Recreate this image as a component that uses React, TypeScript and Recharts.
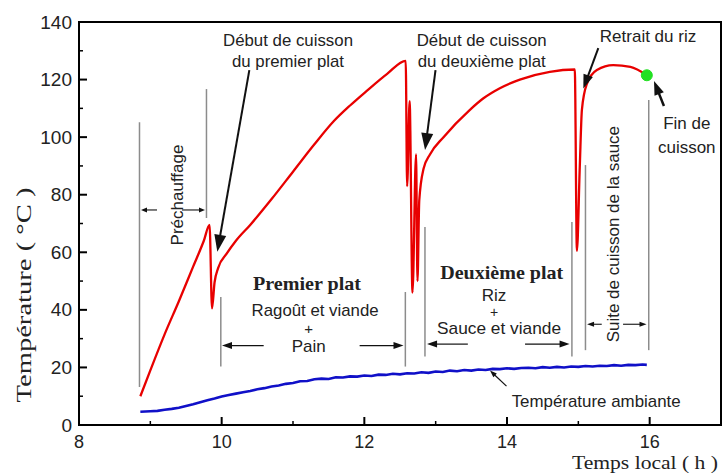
import React from 'react';
import { ComposedChart, Line, XAxis, YAxis, ReferenceLine, ReferenceDot, ReferenceArea } from 'recharts';

// Cooking temperature (red)
const cookHours = [8.86, 9.0, 9.2, 9.4, 9.6, 9.75, 9.83, 9.865, 9.9, 9.95, 10.07, 10.2, 10.4, 10.7, 11.0, 11.3, 11.57, 11.8, 12.03, 12.32, 12.58, 12.6, 12.635, 12.675, 12.725, 12.745, 12.77, 12.83, 12.92, 13.11, 13.48, 13.67, 13.9, 14.18, 14.6, 14.95, 14.98, 15.02, 15.05, 15.12, 15.26, 15.49, 15.73, 15.96];
const cookTemps = [10, 19, 31.5, 43, 55, 64, 69.5, 40.5, 49.5, 54.5, 59.5, 64, 69.5, 78.5, 88, 97.5, 105.5, 111, 116, 122, 126.5, 83, 112.5, 46, 94, 50, 78, 89, 94, 100, 109.5, 113.5, 117, 120, 122.7, 123.5, 60.5, 89.5, 109.5, 118.5, 123.3, 125, 124.4, 121.5];

// Ambient temperature (blue)
const ambHours = [8.86, 9.0, 9.1, 9.2, 9.3, 9.4, 9.5, 9.6, 9.7, 9.8, 9.9, 10.0, 10.1, 10.2, 10.3, 10.4, 10.5, 10.6, 10.7, 10.8, 10.9, 11.0, 11.1, 11.2, 11.3, 11.4, 11.5, 11.6, 11.7, 11.8, 11.9, 12.0, 12.1, 12.2, 12.3, 12.4, 12.5, 12.6, 12.7, 12.8, 12.9, 13.0, 13.1, 13.2, 13.3, 13.4, 13.5, 13.6, 13.7, 13.8, 13.9, 14.0, 14.1, 14.2, 14.3, 14.4, 14.5, 14.6, 14.7, 14.8, 14.9, 15.0, 15.1, 15.2, 15.3, 15.4, 15.5, 15.6, 15.7, 15.8, 15.9, 15.96];
const ambTemps = [4.6, 4.8, 4.9, 5.3, 5.6, 6.0, 6.6, 7.2, 7.9, 8.6, 9.2, 9.9, 10.4, 10.9, 11.4, 11.8, 12.4, 12.8, 13.4, 13.7, 14.3, 14.6, 15.2, 15.3, 15.9, 16.1, 16.0, 16.6, 16.5, 16.9, 16.8, 17.2, 17.0, 17.5, 17.4, 17.8, 17.6, 18.0, 17.9, 18.3, 18.1, 18.6, 18.4, 18.9, 18.7, 19.1, 18.9, 19.3, 19.1, 19.5, 19.4, 19.7, 19.5, 19.8, 19.9, 19.7, 20.1, 19.9, 20.2, 20.0, 20.3, 20.2, 20.5, 20.3, 20.6, 20.5, 20.8, 20.6, 20.9, 20.8, 21.0, 20.9];

// End of cooking marker
const endHour = 15.96;
const endTemp = 121.5;

const xTicks = [8, 9, 10, 11, 12, 13, 14, 15, 16];
const yTicks = [0, 10, 20, 30, 40, 50, 60, 70, 80, 90, 100, 110, 120, 130, 140];

const cookData = cookHours.map((h, i) => ({ h, t: cookTemps[i] }));
const ambData = ambHours.map((h, i) => ({ h, t: ambTemps[i] }));

const SANS = '"Liberation Sans", Arial, sans-serif';
const SERIF = '"Liberation Serif", "Times New Roman", serif';

// gray bracket lines [x, yTop, yBottom]
const brackets: [number, number, number][] = [
  [8.848, 105.2, 13.2],
  [9.787, 116.7, 71.9],
  [9.988, 44.5, 20.3],
  [12.575, 46.2, 20.3],
  [12.85, 68.8, 23.8],
  [14.91, 70.5, 23.8],
  [15.1, 90.3, 26],
  [15.987, 112.9, 26],
];

// arrows: tail -> head, [x1,y1,x2,y2, headLen, headHalfWidth, strokeWidth]
const arrows: [number, number, number, number, number, number, number][] = [
  [9.094, 74.7, 8.869, 74.7, 6, 2.5, 1.1],
  [9.444, 74.7, 9.766, 74.7, 6, 2.5, 1.1],
  [10.589, 27.6, 10.005, 27.6, 10, 3.5, 1.2],
  [11.934, 27.6, 12.549, 27.6, 10, 3.5, 1.2],
  [13.451, 28.1, 12.879, 28.1, 10, 3.5, 1.2],
  [14.253, 28.1, 14.877, 28.1, 10, 3.5, 1.2],
  [15.328, 35, 15.122, 35, 7, 2.5, 1.1],
  [15.627, 35, 15.956, 35, 7, 2.5, 1.1],
  [10.388, 123.3, 9.939, 60.2, 17, 6, 2],
  [12.998, 123.3, 12.851, 95.5, 17, 6, 2],
  [15.28, 130.9, 15.07, 116.9, 14, 5, 2],
  [16.2, 110.8, 16.061, 119.5, 14, 5, 2.5],
  [13.993, 13.5, 13.762, 18.9, 7, 2.5, 1.2],
];

type Note = { x: number; y: number; text: string; size: number; bold?: boolean; serif?: boolean; len?: number };
const notes: Note[] = [
  { x: 10.93, y: 133.7, text: 'Début de cuisson', size: 17, len: 130 },
  { x: 10.93, y: 126.3, text: 'du premier plat', size: 17, len: 112 },
  { x: 13.645, y: 133.7, text: 'Début de cuisson', size: 17, len: 130 },
  { x: 13.645, y: 126.3, text: 'du deuxième plat', size: 17, len: 128 },
  { x: 15.977, y: 134.9, text: 'Retrait du riz', size: 17 },
  { x: 16.52, y: 104.8, text: 'Fin de', size: 17 },
  { x: 16.52, y: 96.5, text: 'cuisson', size: 17 },
  { x: 9.374, y: 79.9, text: 'Préchauffage', size: 17 },
  { x: 11.196, y: 49.3, text: 'Premier plat', size: 19, bold: true, serif: true, len: 108 },
  { x: 11.31, y: 39.9, text: 'Ragoût et viande', size: 17, len: 127 },
  { x: 11.22, y: 33.4, text: '+', size: 15 },
  { x: 11.22, y: 27.1, text: 'Pain', size: 17 },
  { x: 13.926, y: 52.9, text: 'Deuxième plat', size: 19, bold: true, serif: true, len: 123 },
  { x: 13.818, y: 45.0, text: 'Riz', size: 17 },
  { x: 13.818, y: 39.4, text: '+', size: 14 },
  { x: 13.888, y: 33.5, text: 'Sauce et viande', size: 17, len: 124 },
  { x: 15.5, y: 66.3, text: 'Suite de cuisson de la sauce', size: 17 },
  { x: 15.25, y: 8.3, text: 'Température ambiante', size: 17, len: 169 },
];
const rotated = ['Préchauffage', 'Suite de cuisson de la sauce'];

const arrowShape = (L: number, W: number, sw: number) => (p: any) => {
  const { x1, y1, x2, y2 } = p;
  const dx = x2 - x1;
  const dy = y2 - y1;
  const d = Math.hypot(dx, dy) || 1;
  const ux = dx / d;
  const uy = dy / d;
  const bx = x2 - ux * L;
  const by = y2 - uy * L;
  const qx = -uy * W;
  const qy = ux * W;
  return (
    <g>
      <line x1={x1} y1={y1} x2={bx + ux * 1} y2={by + uy * 1} stroke="#111" strokeWidth={sw} />
      <polygon points={`${x2},${y2} ${bx + qx},${by + qy} ${bx - qx},${by - qy}`} fill="#111" />
    </g>
  );
};

const YTick = (props: any) => {
  const { x, y, payload } = props;
  const v = payload.value;
  const major = v % 20 === 0;
  const ax = x + 7;
  return (
    <g>
      <line x1={ax} x2={ax + (major ? 8 : 4)} y1={y} y2={y} stroke="#000" strokeWidth={major ? 2 : 1.5} />
      {major && (
        <text x={x} y={y} textAnchor="end" dominantBaseline="central" fontFamily={SANS} fontSize={19} fill="#222">
          {v}
        </text>
      )}
    </g>
  );
};

const XTick = (props: any) => {
  const { x, y, payload } = props;
  const v = payload.value;
  const major = v % 2 === 0;
  const ay = y - 6;
  return (
    <g>
      <line x1={x} x2={x} y1={ay} y2={ay - (major ? 8 : 4)} stroke="#000" strokeWidth={major ? 2 : 1.5} />
      {major && (
        <text x={x} y={ay + 17} textAnchor="middle" dominantBaseline="central" fontFamily={SANS} fontSize={18} fill="#222">
          {v}
        </text>
      )}
    </g>
  );
};

export default function App() {
  return (
    <div style={{ position: 'absolute', left: 0, top: 0, width: 724, height: 474, background: '#fff' }}>
      <ComposedChart width={724} height={474} margin={{ top: 22, right: 3, bottom: 0, left: 0 }}>
        <XAxis
          dataKey="h"
          type="number"
          domain={[8, 17]}
          ticks={xTicks}
          interval={0}
          tickLine={false}
          tickSize={0}
          tickMargin={6}
          height={49}
          axisLine={{ stroke: '#000', strokeWidth: 2 }}
          tick={XTick}
          allowDataOverflow
          label={{
            content: (p: any) => {
              const vb = p.viewBox || { x: 79, y: 425, width: 642 };
              return (
                <text x={vb.x + vb.width - 3} y={vb.y + 37} textAnchor="end" dominantBaseline="central" fontFamily={SERIF} fontSize={19} textLength={146} lengthAdjust="spacingAndGlyphs" fill="#222">
                  Temps local ( h )
                </text>
              );
            },
          }}
        />
        <YAxis
          type="number"
          domain={[0, 140]}
          ticks={yTicks}
          interval={0}
          tickLine={false}
          tickSize={0}
          tickMargin={7}
          width={79}
          axisLine={{ stroke: '#000', strokeWidth: 2 }}
          tick={YTick}
          allowDataOverflow
          label={{
            content: () => (
              <text x={24} y={295} transform="rotate(-90 24 295)" textAnchor="middle" dominantBaseline="central" fontFamily={SERIF} fontSize={21} textLength={215} lengthAdjust="spacingAndGlyphs" fill="#222">
                Température ( °C )
              </text>
            ),
          }}
        />
        <ReferenceArea x1={8} x2={17} y1={0} y2={140} fill="none" stroke="#000" strokeWidth={2} ifOverflow="visible" />
        {brackets.map((b, i) => (
          <ReferenceLine
            key={'b' + i}
            segment={[{ x: b[0], y: b[1] }, { x: b[0], y: b[2] }]}
            stroke="#8c8c8c"
            strokeWidth={1.5}
            ifOverflow="visible"
          />
        ))}
        <Line data={ambData} dataKey="t" type="linear" stroke="#1010c8" strokeWidth={2.6} dot={false} isAnimationActive={false} />
        <Line data={cookData} dataKey="t" type="monotoneX" stroke="#e80000" strokeWidth={2.3} dot={false} isAnimationActive={false} />
        <ReferenceDot x={endHour} y={endTemp} r={5.5} fill="#22e022" stroke="#22e022" ifOverflow="visible" />
        {arrows.map((a, i) => (
          <ReferenceLine
            key={'a' + i}
            segment={[{ x: a[0], y: a[1] }, { x: a[2], y: a[3] }]}
            ifOverflow="visible"
            shape={arrowShape(a[4], a[5], a[6])}
          />
        ))}
        {notes.map((n, i) => (
          <ReferenceDot
            key={'n' + i}
            x={n.x}
            y={n.y}
            r={0}
            ifOverflow="visible"
            shape={(p: any) => (
              <text
                x={p.cx}
                y={p.cy}
                transform={rotated.includes(n.text) ? `rotate(-90 ${p.cx} ${p.cy})` : undefined}
                textAnchor="middle"
                dominantBaseline="central"
                fontFamily={n.serif ? SERIF : SANS}
                fontWeight={n.bold ? 'bold' : 'normal'}
                fontSize={n.size}
                textLength={n.len}
                lengthAdjust={n.len ? 'spacingAndGlyphs' : undefined}
                fill="#222"
              >
                {n.text}
              </text>
            )}
          />
        ))}
      </ComposedChart>
    </div>
  );
}
